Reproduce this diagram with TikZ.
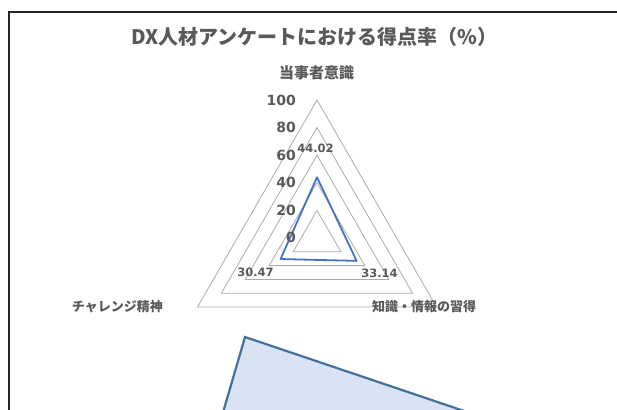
\documentclass[tikz,border=0pt]{standalone}
\usepackage{fontspec}
\setmainfont{DejaVu Sans}
\newfontfamily\jpfont{Noto Sans CJK JP}
\definecolor{textgray}{HTML}{595959}
\definecolor{gridgray}{HTML}{ABABAB}
\definecolor{serieblue}{HTML}{4472C4}
\definecolor{shapefill}{HTML}{DAE3F3}
\definecolor{shapeline}{HTML}{41719C}
\tikzset{
	ring/.style = {draw = gridgray, line width = 0.8pt},
	serie/.style = {draw = serieblue, line width = 1.8pt, line join = round},
	tick/.style = {anchor = east, inner sep = 0pt, text = textgray, font = \fontsize{14}{14}\selectfont\bfseries},
	datalabel/.style = {inner sep = 0pt, text = textgray, font = \fontsize{11.5}{11.5}\selectfont\bfseries},
	axislabel/.style = {inner sep = 0pt, text = textgray, font = \jpfont\fontsize{13}{13}\selectfont\bfseries}
}
\begin{document}
\begin{tikzpicture}[x = 1pt, y = -1pt]
	\clip (0,0) rectangle (617,409);
	\draw[line width = 2.5pt, color = black!85] (9,430) -- (9,12) -- (640,12);
	\node[inner sep = 0pt, text = textgray, font = \jpfont\fontsize{20}{20}\selectfont\bfseries] (title) at (314.5,37) {DX人材アンケートにおける得点率（\%）};
	\begin{scope}[shift = {(317,238)}]
		\draw[ring] (-90:27.6) -- (30:27.6) -- (150:27.6) -- cycle;
		\draw[ring] (-90:55.2) -- (30:55.2) -- (150:55.2) -- cycle;
		\draw[ring] (-90:82.8) -- (30:82.8) -- (150:82.8) -- cycle;
		\draw[ring] (-90:110.4) -- (30:110.4) -- (150:110.4) -- cycle;
		\draw[ring] (-90:138) -- (30:138) -- (150:138) -- cycle;
		\coordinate (pTop) at (-90:60.75);
		\coordinate (pRight) at (30:45.73);
		\coordinate (pLeft) at (150:42.05);
		\draw[serie] (pTop) -- (pRight) -- (pLeft) -- cycle;
	\end{scope}
	\node[tick] (t0) at (296,237) {0};
	\node[tick] (t20) at (296,210) {20};
	\node[tick] (t40) at (296,182) {40};
	\node[tick] (t60) at (296,155) {60};
	\node[tick] (t80) at (296,127) {80};
	\node[tick] (t100) at (296,100) {100};
	\node[datalabel] (vTop) at (315.5,148) {44.02};
	\node[datalabel] (vLeft) at (255.5,272) {30.47};
	\node[datalabel] (vRight) at (379.5,273) {33.14};
	\node[axislabel, font = \jpfont\fontsize{15}{15}\selectfont\bfseries] (ishiki) at (316.5,73) {当事者意識};
	\node[axislabel, anchor = east] (challenge) at (163,307) {チャレンジ精神};
	\node[axislabel, anchor = west] (chishiki) at (372,307) {知識・情報の習得};
	\coordinate (sTop) at (245,337);
	\coordinate (sRight) at (550,440);
	\coordinate (sLeft) at (215,440);
	\draw[fill = shapefill, draw = shapeline, line width = 2.2pt] (sTop) -- (sRight) -- (sLeft) -- cycle;
\end{tikzpicture}
\end{document}
